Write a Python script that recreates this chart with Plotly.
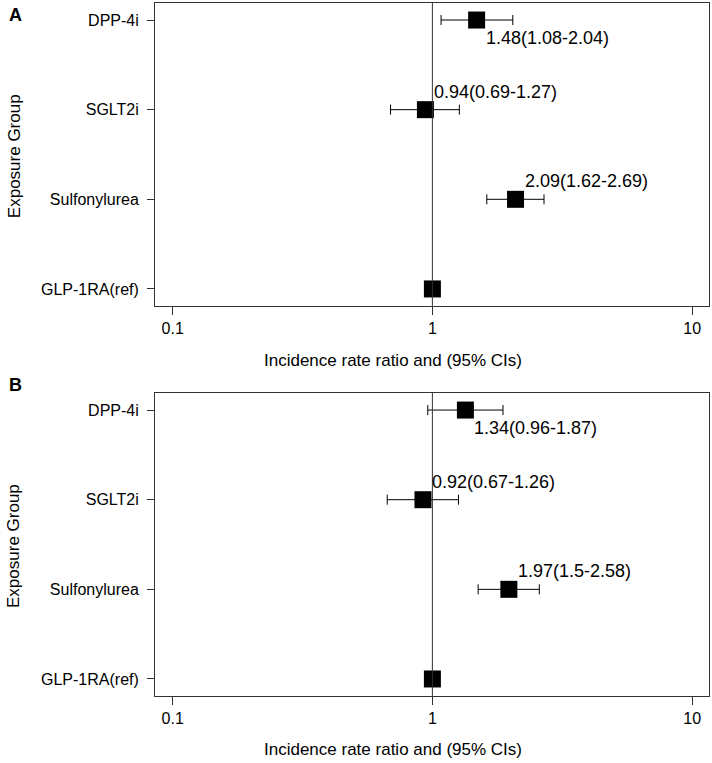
import plotly.graph_objects as go
import math

groups = ["GLP-1RA(ref)", "Sulfonylurea", "SGLT2i", "DPP-4i"]

irr_a = [1.0, 2.09, 0.94, 1.48]
lo_a = [1.0, 1.62, 0.69, 1.08]
hi_a = [1.0, 2.69, 1.27, 2.04]
lab_a = ["", "2.09(1.62-2.69)", "0.94(0.69-1.27)", "1.48(1.08-2.04)"]

irr_b = [1.0, 1.97, 0.92, 1.34]
lo_b = [1.0, 1.5, 0.67, 0.96]
hi_b = [1.0, 2.58, 1.26, 1.87]
lab_b = ["", "1.97(1.5-2.58)", "0.92(0.67-1.26)", "1.34(0.96-1.87)"]

label_above = [False, True, True, False]

x_ticks = [0.1, 1, 10]
x_ticktext = ["0.1", "1", "10"]

FONT = "Liberation Sans, Arial, sans-serif"

fig = go.Figure()

panels = [("A", irr_a, lo_a, hi_a, lab_a, "x", "y"), ("B", irr_b, lo_b, hi_b, lab_b, "x2", "y2")]

for name, irr, lo, hi, lab, xa, ya in panels:
    fig.add_trace(go.Scatter(
        x=irr, y=groups, mode="markers", xaxis=xa, yaxis=ya,
        marker=dict(symbol="square", size=17, color="black"),
        error_x=dict(type="data", symmetric=False,
                     array=[h - v for h, v in zip(hi, irr)],
                     arrayminus=[v - l for v, l in zip(irr, lo)],
                     color="black", thickness=1, width=5),
        showlegend=False, hoverinfo="skip",
    ))
    for xv, g, t, above in zip(irr, groups, lab, label_above):
        if t:
            fig.add_annotation(x=math.log10(xv), y=g, xref=xa, yref=ya, text=t, showarrow=False,
                               xanchor="left", yanchor="middle", xshift=7,
                               yshift=18 if above else -18,
                               font=dict(family=FONT, size=18, color="black"))
    # vertical reference line at 1
    fig.add_shape(type="line", x0=1, x1=1, y0=0, y1=1, xref=xa,
                  yref=f"{ya} domain", line=dict(color="#333333", width=1))

axis_x = dict(type="log", range=[-1.068, 1.065], tickvals=x_ticks, ticktext=x_ticktext,
              ticks="outside", ticklen=8, tickwidth=1, tickcolor="#333333",
              showline=True, linecolor="#333333", linewidth=1, mirror=True,
              showgrid=False, zeroline=False,
              tickfont=dict(family=FONT, size=16, color="black"))
axis_y = dict(categoryorder="array", categoryarray=groups, range=[-0.19, 3.19],
              ticks="outside", ticklen=7, tickwidth=1, tickcolor="#333333",
              ticklabelstandoff=5,
              showline=True, linecolor="#333333", linewidth=1, mirror=True,
              showgrid=False, zeroline=False,
              tickfont=dict(family=FONT, size=16, color="black"))

fig.update_layout(
    width=712, height=763,
    margin=dict(l=155, r=3, t=3, b=67),
    plot_bgcolor="white", paper_bgcolor="white",
    xaxis=dict(axis_x, domain=[0, 1], anchor="y"),
    yaxis=dict(axis_y, domain=[0.5628, 1], anchor="x"),
    xaxis2=dict(axis_x, domain=[0, 1], anchor="y2"),
    yaxis2=dict(axis_y, domain=[0, 0.4372], anchor="x2"),
)

# axis titles and panel letters
for ytitle, ycenter, letter_y, letter in [(0.4848, 0.779, 0.9827, "A"), (-0.0779, 0.2165, 0.4488, "B")]:
    fig.add_annotation(x=0.4296, y=ytitle, xref="paper", yref="paper",
                       text="Incidence rate ratio and (95% CIs)", showarrow=False,
                       xanchor="center", yanchor="middle",
                       font=dict(family=FONT, size=17, color="black"))
    fig.add_annotation(x=-0.2545, y=ycenter, xref="paper", yref="paper",
                       text="Exposure Group", showarrow=False, textangle=-90,
                       xanchor="center", yanchor="middle",
                       font=dict(family=FONT, size=17, color="black"))
    fig.add_annotation(x=-0.267, y=letter_y, xref="paper", yref="paper",
                       text=f"<b>{letter}</b>", showarrow=False,
                       xanchor="left", yanchor="middle",
                       font=dict(family=FONT, size=18, color="black"))

fig.write_html("out.html", config={"displayModeBar": False},
               post_script="document.body.style.margin='0';")
